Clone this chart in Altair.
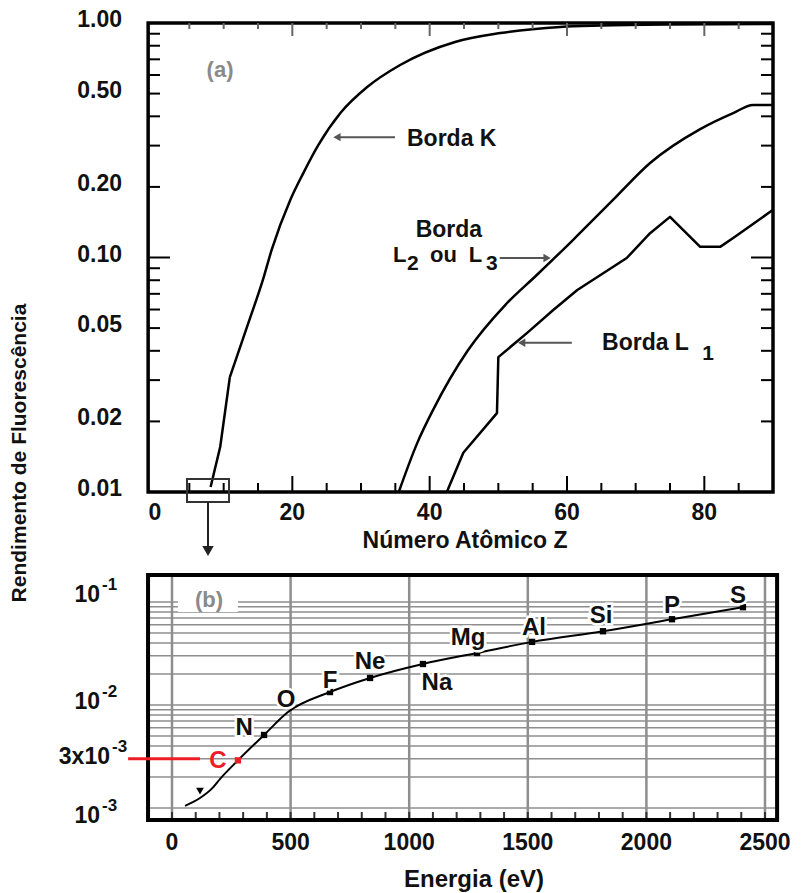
import altair as alt
import pandas as pd

FONT = "Liberation Sans"
INK = "#111111"
GRAY_LABEL = "#8a8a8a"
ARROW = "#555555"
GRID = "#8e8e8e"
RED = "#ee1c25"

# ---------------- Panel (a): yield vs atomic number ----------------
# K edge: steep lower part (read as straight segments) and smooth upper part
k_low_z = [8.1, 9.5, 10.9]
k_low_w = [0.0105, 0.0156, 0.0309]
k_z = [10.9, 13.6, 15.7, 17.0, 19.7, 21.6, 23.8, 27.0, 30.9, 35.7, 43.7, 50.3, 59.0, 65.0, 75.0, 90.0]
k_w = [0.0309, 0.0526, 0.080, 0.108, 0.176, 0.229, 0.302, 0.413, 0.533, 0.662, 0.830, 0.906, 0.962, 0.975, 0.985, 0.99]
l23_z = [35.5, 38.2, 40.5, 45.6, 51.0, 55.6, 60.9, 66.7, 72.1, 79.4, 84.2, 87.1, 90.0]
l23_w = [0.010, 0.0162, 0.0224, 0.0403, 0.0627, 0.0842, 0.119, 0.176, 0.253, 0.353, 0.413, 0.447, 0.447]
l1_z = [42.5, 44.9, 49.8, 50.0, 54.2, 58.0, 61.5, 68.7, 72.1, 75.0, 79.4, 82.3, 84.2, 89.9]
l1_w = [0.010, 0.0147, 0.0217, 0.0376, 0.0477, 0.0597, 0.0727, 0.0995, 0.127, 0.149, 0.111, 0.111, 0.121, 0.159]

a_ytick_minor = [0.02, 0.03, 0.04, 0.05, 0.06, 0.07, 0.08, 0.09, 0.2, 0.3, 0.4, 0.5, 0.6, 0.7, 0.8, 0.9]
a_ytick_major = [0.1]
a_xtick_minor = [5, 10, 15, 25, 30, 35, 45, 50, 55, 65, 70, 75, 85]
a_xtick_major = [20, 40, 60, 80]
a_ylab_v = [1.0, 0.5, 0.2, 0.1, 0.05, 0.02, 0.01]
a_ylab_t = ["1.00", "0.50", "0.20", "0.10", "0.05", "0.02", "0.01"]
a_xlab_v = [0, 20, 40, 60, 80]

# ---------------- Panel (b): yield vs energy ----------------
b_line_e = [55, 118, 169, 203, 278, 388, 489, 666, 835, 1058, 1286, 1518, 1817, 2108, 2407]
b_line_w = [0.00105, 0.00125, 0.00155, 0.00192, 0.0029, 0.00512, 0.00855, 0.01336, 0.0183,
            0.025, 0.032, 0.041, 0.052, 0.068, 0.089]
b_mark_e = [388, 666, 835, 1058, 1286, 1518, 1817, 2108, 2407]
b_mark_w = [0.00512, 0.01336, 0.0183, 0.025, 0.032, 0.041, 0.052, 0.068, 0.089]
b_lab_t = ["N", "O", "F", "Ne", "Na", "Mg", "Al", "Si", "P", "S"]
b_lab_e = [304, 481, 666, 835, 1117, 1248, 1526, 1809, 2108, 2386]
b_lab_w = [0.00598, 0.0112, 0.0171, 0.0261, 0.0164, 0.0452, 0.0559, 0.0731, 0.0914, 0.114]
b_c_e, b_c_w = 278, 0.0029
b_c_lab_e, b_c_lab_w = 194, 0.00286
b_tri_e, b_tri_w = 118, 0.00146

b_grid_y = [1e-3, 2e-3, 3e-3, 4e-3, 5e-3, 6e-3, 7e-3, 8e-3, 9e-3,
            1e-2, 2e-2, 3e-2, 4e-2, 5e-2, 6e-2, 7e-2, 8e-2, 9e-2, 1e-1]
b_grid_x = [0, 500, 1000, 1500, 2000, 2500]
b_tick_x = list(range(0, 2600, 100))
b_xlab_v = [0, 500, 1000, 1500, 2000, 2500]

# ---------------- scales ----------------
TX = alt.Scale(domain=[0, 90], range=[7, 625], nice=False, zero=False)
TY = alt.Scale(type="log", domain=[0.01, 1], range=[469, 0], nice=False)
BX = alt.Scale(domain=[0, 2500], range=[24, 617], nice=False, zero=False)
BY = alt.Scale(type="log", domain=[0.001, 0.1], range=[785, 579], nice=False)


def ax(field, scale):
    return alt.X(field, scale=scale, axis=None)


def ay(field, scale):
    return alt.Y(field, scale=scale, axis=None)


def text_kw(size=23, color=INK, **kw):
    d = dict(font=FONT, fontSize=size, fontWeight="bold", color=color)
    d.update(kw)
    return d


# ======== panel (a) layers ========
smooth = pd.concat([
    pd.DataFrame({"z": k_z, "w": k_w, "s": "K", "i": range(len(k_z))}),
    pd.DataFrame({"z": l23_z, "w": l23_w, "s": "L23", "i": range(len(l23_z))}),
])
straight = pd.concat([
    pd.DataFrame({"z": k_low_z, "w": k_low_w, "s": "Klow", "i": range(len(k_low_z))}),
    pd.DataFrame({"z": l1_z, "w": l1_w, "s": "L1", "i": range(len(l1_z))}),
])

a_layers = []
a_layers.append(
    alt.Chart(smooth).mark_line(color="black", strokeWidth=2.5, interpolate="monotone").encode(
        x=ax("z:Q", TX), y=ay("w:Q", TY), detail="s:N", order="i:Q"))
a_layers.append(
    alt.Chart(straight).mark_line(color="black", strokeWidth=2.5, strokeJoin="round").encode(
        x=ax("z:Q", TX), y=ay("w:Q", TY), detail="s:N", order="i:Q"))

a_layers.append(
    alt.Chart(pd.DataFrame({"x": [-1.0], "x2": [90.0], "y": [0.01], "y2": [1.0]}))
    .mark_rect(fillOpacity=0, stroke="black", strokeWidth=3.5)
    .encode(x=ax("x:Q", TX), x2="x2:Q", y=ay("y:Q", TY), y2="y2:Q"))

# inward ticks
for vals, ln in [(a_ytick_minor, 12), (a_ytick_major, 22)]:
    df = pd.DataFrame({"v": vals})
    a_layers.append(alt.Chart(df).mark_rule(color="black", strokeWidth=2).encode(
        y=ay("v:Q", TY), x=alt.value(0), x2=alt.value(ln)))
    a_layers.append(alt.Chart(df).mark_rule(color="black", strokeWidth=2).encode(
        y=ay("v:Q", TY), x=alt.value(625), x2=alt.value(625 - ln)))
for vals, ln in [(a_xtick_minor, 9), (a_xtick_major, 16)]:
    df = pd.DataFrame({"v": vals})
    a_layers.append(alt.Chart(df).mark_rule(color="black", strokeWidth=2).encode(
        x=ax("v:Q", TX), y=alt.value(469), y2=alt.value(469 - ln)))
    a_layers.append(alt.Chart(df).mark_rule(color="#666666", strokeWidth=2).encode(
        x=ax("v:Q", TX), y=alt.value(0), y2=alt.value(ln - 3)))

# tick labels
a_layers.append(
    alt.Chart(pd.DataFrame({"v": a_ylab_v, "t": a_ylab_t}))
    .mark_text(**text_kw(23, align="right", baseline="middle", dy=-3))
    .encode(y=ay("v:Q", TY), x=alt.value(-26), text="t:N"))
a_layers.append(
    alt.Chart(pd.DataFrame({"v": a_xlab_v, "t": [str(v) for v in a_xlab_v]}))
    .mark_text(**text_kw(23, align="center", baseline="middle"))
    .encode(x=ax("v:Q", TX), y=alt.value(490), text="t:N"))

# annotations (a)
ann_a = pd.DataFrame({
    "z": [36.7, 65.1, 34.66, 40.05, 45.7],
    "w": [0.299, 0.0403, 0.0957, 0.0957, 0.0957],
    "t": ["Borda K", "Borda L", "L", "ou", "L"],
    "fs": [23, 23, 22, 22, 22],
})
for fs in [23, 22]:
    a_layers.append(alt.Chart(ann_a[ann_a["fs"] == fs])
                    .mark_text(**text_kw(fs, align="left", baseline="alphabetic"))
                    .encode(x=ax("z:Q", TX), y=ay("w:Q", TY), text="t:N"))
sub_a = pd.DataFrame({"z": [36.7, 48.2, 79.7], "w": [0.0885, 0.0885, 0.0366], "t": ["2", "3", "1"]})
a_layers.append(alt.Chart(sub_a).mark_text(**text_kw(21, align="left", baseline="alphabetic"))
                .encode(x=ax("z:Q", TX), y=ay("w:Q", TY), text="t:N"))
a_layers.append(alt.Chart(pd.DataFrame({"z": [42.8], "w": [0.1223], "t": ["Borda"]}))
                .mark_text(**text_kw(23, align="center", baseline="alphabetic"))
                .encode(x=ax("z:Q", TX), y=ay("w:Q", TY), text="t:N"))
a_layers.append(alt.Chart(pd.DataFrame({"z": [9.47], "w": [0.63], "t": ["(a)"]}))
                .mark_text(**text_kw(22, color=GRAY_LABEL, align="center", baseline="middle"))
                .encode(x=ax("z:Q", TX), y=ay("w:Q", TY), text="t:N"))

# arrows (a)
arrows = pd.DataFrame({
    "z0": [34.95, 50.2, 60.7],
    "z1": [26.5, 57.1, 53.4],
    "w": [0.326, 0.0995, 0.0433],
    "shape": ["triangle-left", "triangle-right", "triangle-left"],
})
a_layers.append(alt.Chart(arrows).mark_rule(color=ARROW, strokeWidth=2).encode(
    x=ax("z0:Q", TX), x2="z1:Q", y=ay("w:Q", TY)))
for shp in ["triangle-left", "triangle-right"]:
    a_layers.append(alt.Chart(arrows[arrows["shape"] == shp]).mark_point(
        shape=shp, filled=True, size=70, color=ARROW, opacity=1).encode(
        x=ax("z1:Q", TX), y=ay("w:Q", TY)))

# zoom box and downward arrow
a_layers.append(
    alt.Chart(pd.DataFrame({"x": [4.66], "x2": [10.78], "y": [0.00907], "y2": [0.01135]}))
    .mark_rect(fillOpacity=0, stroke="#333333", strokeWidth=2)
    .encode(x=ax("x:Q", TX), x2="x2:Q", y=ay("y:Q", TY), y2="y2:Q"))
a_layers.append(
    alt.Chart(pd.DataFrame({"z": [7.72], "w0": [0.00907], "w1": [0.0056]}))
    .mark_rule(color="#222222", strokeWidth=2)
    .encode(x=ax("z:Q", TX), y=ay("w0:Q", TY), y2="w1:Q"))
a_layers.append(
    alt.Chart(pd.DataFrame({"z": [7.72], "w": [0.0056]}))
    .mark_point(shape="triangle-down", filled=True, size=130, color="#222222", opacity=1)
    .encode(x=ax("z:Q", TX), y=ay("w:Q", TY)))

# titles
a_layers.append(alt.Chart(pd.DataFrame({"t": ["Número Atômico Z"]}))
                .mark_text(**text_kw(23, align="center", baseline="middle"))
                .encode(x=alt.value(317), y=alt.value(518), text="t:N"))
a_layers.append(alt.Chart(pd.DataFrame({"t": ["Rendimento de Fluorescência"]}))
                .mark_text(**text_kw(21, align="center", baseline="middle", angle=270))
                .encode(x=alt.value(-128), y=alt.value(430), text="t:N"))

panel_a = alt.layer(*a_layers)

# ======== panel (b) layers ========
b_layers = []
b_layers.append(alt.Chart(pd.DataFrame({"v": b_grid_y})).mark_rule(color=GRID, strokeWidth=1.5).encode(
    y=ay("v:Q", BY), x=alt.value(0), x2=alt.value(629)))
b_layers.append(alt.Chart(pd.DataFrame({"v": b_grid_x})).mark_rule(color=GRID, strokeWidth=2.5).encode(
    x=ax("v:Q", BX), y=alt.value(552), y2=alt.value(797)))
b_layers.append(alt.Chart(pd.DataFrame({"v": b_tick_x})).mark_rule(color="#333333", strokeWidth=2).encode(
    x=ax("v:Q", BX), y=alt.value(797), y2=alt.value(789)))

# white box behind "(b)"
b_layers.append(
    alt.Chart(pd.DataFrame({"x": [25], "x2": [278], "y": [0.080], "y2": [0.131]}))
    .mark_rect(color="white")
    .encode(x=ax("x:Q", BX), x2="x2:Q", y=ay("y:Q", BY), y2="y2:Q"))
b_layers.append(alt.Chart(pd.DataFrame({"e": [156], "w": [0.1045], "t": ["(b)"]}))
                .mark_text(**text_kw(22, color=GRAY_LABEL, align="center", baseline="middle"))
                .encode(x=ax("e:Q", BX), y=ay("w:Q", BY), text="t:N"))

# frame
b_layers.append(
    alt.Chart(pd.DataFrame({"x": [-101], "x2": [2551], "y": [0.000764], "y2": [0.183]}))
    .mark_rect(fillOpacity=0, stroke="black", strokeWidth=4)
    .encode(x=ax("x:Q", BX), x2="x2:Q", y=ay("y:Q", BY), y2="y2:Q"))

# red 3x10^-3 marker line
b_layers.append(
    alt.Chart(pd.DataFrame({"e0": [-185], "e1": [118], "w": [0.003]}))
    .mark_rule(color=RED, strokeWidth=3)
    .encode(x=ax("e0:Q", BX), x2="e1:Q", y=ay("w:Q", BY)))

# curve
b_layers.append(
    alt.Chart(pd.DataFrame({"e": b_line_e, "w": b_line_w, "i": range(len(b_line_e))}))
    .mark_line(color="black", strokeWidth=2, interpolate="monotone")
    .encode(x=ax("e:Q", BX), y=ay("w:Q", BY), order="i:Q"))
b_layers.append(
    alt.Chart(pd.DataFrame({"e": b_mark_e, "w": b_mark_w}))
    .mark_point(shape="square", filled=True, size=40, color="black", opacity=1)
    .encode(x=ax("e:Q", BX), y=ay("w:Q", BY)))
b_layers.append(
    alt.Chart(pd.DataFrame({"e": [b_c_e], "w": [b_c_w]}))
    .mark_point(shape="square", filled=True, size=40, color=RED, opacity=1)
    .encode(x=ax("e:Q", BX), y=ay("w:Q", BY)))
b_layers.append(
    alt.Chart(pd.DataFrame({"e": [b_tri_e], "w": [b_tri_w]}))
    .mark_point(shape="triangle-down", filled=True, size=60, color="black", opacity=1)
    .encode(x=ax("e:Q", BX), y=ay("w:Q", BY)))

# element labels with white halo
lab_df = pd.DataFrame({"e": b_lab_e, "w": b_lab_w, "t": b_lab_t})
b_layers.append(alt.Chart(lab_df).mark_text(
    **text_kw(24, color="white", align="center", baseline="middle", stroke="white", strokeWidth=5))
    .encode(x=ax("e:Q", BX), y=ay("w:Q", BY), text="t:N"))
b_layers.append(alt.Chart(lab_df).mark_text(**text_kw(24, align="center", baseline="middle"))
                .encode(x=ax("e:Q", BX), y=ay("w:Q", BY), text="t:N"))
b_layers.append(alt.Chart(pd.DataFrame({"e": [b_c_lab_e], "w": [b_c_lab_w], "t": ["C"]}))
                .mark_text(**text_kw(24, color=RED, align="center", baseline="middle"))
                .encode(x=ax("e:Q", BX), y=ay("w:Q", BY), text="t:N"))

# x tick labels
b_layers.append(
    alt.Chart(pd.DataFrame({"v": b_xlab_v, "t": [str(v) for v in b_xlab_v]}))
    .mark_text(**text_kw(23, align="center", baseline="middle"))
    .encode(x=ax("v:Q", BX), y=alt.value(820), text="t:N"))

# y tick labels with superscripts
ylabs = [("10", "-1", 0.117, -48), ("10", "-2", 0.0107, -48),
         ("3x10", "-3", 0.00313, -38), ("10", "-3", 0.000836, -48)]
for base, sup, w, xr in ylabs:
    df = pd.DataFrame({"w": [w], "b": [base], "s": [sup]})
    b_layers.append(alt.Chart(df).mark_text(**text_kw(23, align="right", baseline="middle"))
                    .encode(y=ay("w:Q", BY), x=alt.value(xr), text="b:N"))
    b_layers.append(alt.Chart(df).mark_text(**text_kw(17, align="left", baseline="middle", dy=-10))
                    .encode(y=ay("w:Q", BY), x=alt.value(xr + 2), text="s:N"))

b_layers.append(alt.Chart(pd.DataFrame({"t": ["Energia (eV)"]}))
                .mark_text(**text_kw(24, align="center", baseline="middle"))
                .encode(x=alt.value(326), y=alt.value(857), text="t:N"))

panel_b = alt.layer(*b_layers)

chart = (
    alt.layer(panel_a, panel_b)
    .resolve_scale(x="independent", y="independent")
    .properties(
        width=630, height=800,
        autosize=alt.AutoSizeParams(type="none"),
        padding={"left": 148, "top": 23, "right": 27, "bottom": 70},
        background="white",
    )
    .configure_view(stroke=None)
)

chart.save("out.html", embed_options={"renderer": "svg", "actions": False})
